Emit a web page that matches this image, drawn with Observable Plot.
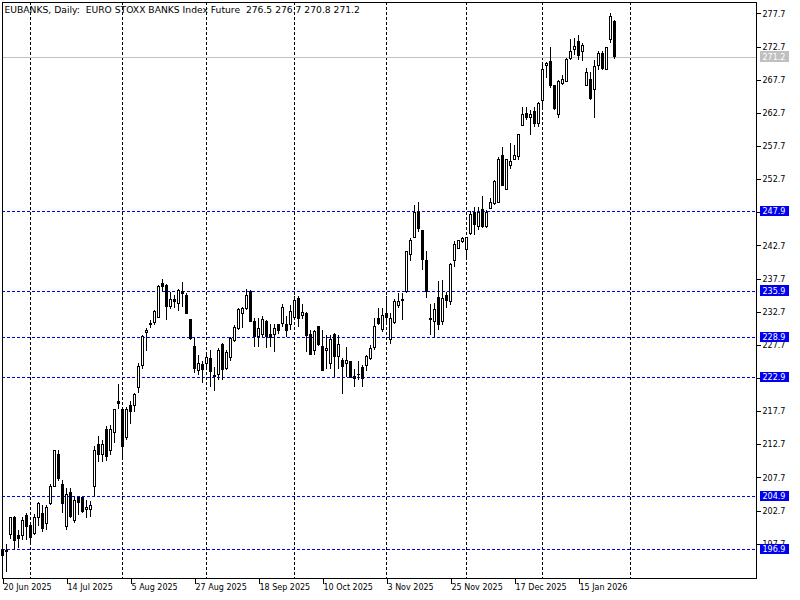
<!DOCTYPE html>
<html><head><meta charset="utf-8">
<script src="https://cdn.jsdelivr.net/npm/d3@7"></script>
<script src="https://cdn.jsdelivr.net/npm/@observablehq/plot@0.6"></script>
<style>
html,body{margin:0;padding:0;background:#fff;}
#chart text{white-space:pre;}
#chart svg line, #chart svg rect, #chart svg path{shape-rendering:crispEdges;}
</style>
</head><body><div id="chart"></div>
<script>
const open  = [196.8,196.6,199.1,201.6,199.0,199.0,201.9,200.4,199.2,201.6,202.3,200.8,203.8,206.4,211.2,206.7,200.3,205.5,201.2,204.7,
 204.7,202.8,202.8,206.3,212.6,211.2,214.9,211.8,214.5,219.1,217.9,213.8,218.5,218.6,221.2,224.6,229.5,230.9,231.1,231.9,
 237.0,236.7,233.5,234.5,234.0,235.7,235.2,231.5,227.5,223.9,224.8,224.9,225.7,223.1,223.3,227.7,224.1,225.8,228.3,230.2,
 232.5,233.2,235.7,231.3,229.0,229.2,231.3,229.2,229.3,230.7,230.9,230.7,230.7,231.9,234.7,232.1,232.5,229.2,226.8,230.5,
 227.5,226.8,224.9,229.2,226.0,225.4,224.9,225.2,223.0,223.3,224.3,224.6,225.7,227.3,231.7,230.0,232.4,228.5,231.1,233.7,
 234.6,235.7,241.4,243.9,247.8,244.9,240.4,231.7,231.3,234.8,231.3,235.2,234.2,240.5,242.3,243.3,242.1,244.5,247.6,245.5,
 248.2,245.6,248.3,249.1,249.2,256.3,251.2,254.7,255.7,256.1,260.8,262.6,262.0,262.9,261.1,264.5,269.8,270.4,266.8,262.4,
 267.2,267.4,270.9,272.3,273.4,271.9,266.9,267.7,266.2,269.9,271.7,269.3,273.8,276.5];
const high  = [197.0,197.6,201.6,201.9,199.7,201.7,202.3,201.0,202.2,204.0,203.5,203.5,206.7,211.8,211.8,207.3,206.1,206.1,204.8,204.8,
 204.8,204.3,204.2,212.5,213.9,213.3,215.5,215.6,218.1,221.8,218.1,218.3,219.2,220.5,224.9,229.2,230.3,231.5,233.0,236.7,
 237.6,236.9,235.7,235.2,236.2,237.2,235.5,231.6,228.7,226.2,225.2,226.7,226.9,224.4,227.3,228.0,226.9,228.9,230.7,233.2,
 233.4,236.1,236.0,231.7,231.7,232.0,231.5,230.8,230.8,230.8,233.9,232.0,233.7,235.0,235.0,233.9,232.7,229.9,229.9,230.6,
 229.9,229.2,229.2,229.5,229.2,225.7,227.4,225.3,224.1,225.2,224.6,226.2,227.7,231.8,233.2,233.2,235.0,232.5,234.6,235.5,
 235.5,241.9,243.8,248.8,249.2,245.0,241.8,233.9,234.0,237.4,237.5,235.7,240.0,243.3,243.5,244.0,244.0,247.9,248.5,248.5,
 250.2,248.1,249.8,252.6,256.1,257.6,255.8,258.1,257.9,259.5,263.6,263.6,263.1,263.6,264.4,270.4,270.4,272.7,266.9,267.7,
 268.4,271.0,273.8,274.0,274.4,273.2,269.4,268.9,270.7,272.0,272.0,272.7,277.7,276.7];
const low   = [195.8,193.4,198.4,196.7,197.0,198.2,198.2,197.6,199.0,200.4,199.4,199.8,203.5,206.3,207.2,202.4,199.7,201.6,200.9,202.0,
 202.3,201.6,201.7,204.7,210.0,210.0,210.2,211.1,212.9,218.0,210.3,213.3,215.7,217.6,220.5,224.1,226.8,230.3,230.7,231.9,
 235.7,231.4,233.1,233.2,232.8,233.4,232.4,228.4,223.4,223.2,221.9,223.9,221.3,220.7,222.4,222.4,223.9,225.2,228.2,229.9,
 230.2,233.0,231.1,227.4,227.4,228.9,227.2,227.4,226.7,229.3,230.4,228.9,229.9,231.5,230.4,231.6,226.7,226.2,226.2,227.6,
 223.8,224.1,224.1,222.8,224.1,220.3,222.9,222.7,221.4,222.4,221.3,223.7,225.4,226.9,230.7,229.6,230.9,227.9,230.9,233.3,
 231.5,235.6,240.3,243.8,244.8,239.0,234.8,229.2,228.7,229.9,230.7,233.2,233.7,239.5,242.2,243.0,241.0,244.3,244.3,245.0,
 245.3,245.3,248.2,248.8,249.1,251.6,251.1,254.3,255.6,255.6,260.7,261.6,259.4,260.6,260.6,263.6,267.9,266.4,263.1,261.9,
 266.9,267.3,270.7,271.4,270.7,270.5,266.8,264.6,261.9,269.2,269.2,269.2,273.2,270.8];
const close = [195.9,196.7,201.6,198.2,198.5,201.2,200.3,198.7,201.7,203.7,200.0,203.2,206.4,211.7,207.5,203.7,205.2,201.8,204.2,203.9,
 202.5,203.2,203.5,211.7,211.2,212.7,210.9,214.9,218.0,218.8,212.4,217.9,217.6,220.2,224.5,229.0,229.9,230.8,232.8,236.5,
 236.5,233.5,234.5,234.2,235.9,235.5,232.5,228.7,224.1,224.9,224.0,225.8,223.7,222.9,226.9,224.0,226.5,228.7,230.3,233.1,
 233.2,235.2,231.2,228.9,230.2,231.5,228.9,228.8,230.1,229.9,233.3,229.9,232.7,234.4,231.7,232.6,229.1,226.3,229.7,227.7,
 223.9,227.2,228.5,226.0,227.7,224.4,225.4,222.8,222.7,223.2,222.6,226.0,227.2,230.5,230.9,232.1,231.9,231.7,234.2,234.3,
 234.4,241.8,243.4,247.6,245.3,240.6,235.8,231.5,233.1,230.7,234.7,234.4,239.9,242.8,243.4,243.7,243.9,247.3,245.8,247.6,
 245.6,247.6,249.2,252.3,255.7,251.7,255.7,255.4,256.3,259.4,262.4,262.0,262.5,261.1,264.1,269.2,270.1,266.9,263.4,267.4,
 267.8,270.8,271.9,272.7,271.4,272.9,268.8,264.9,269.7,271.7,269.4,272.6,277.2,271.2];

const xTickIdx = [0,16,32,48,64,80,96,112,128,144];
const xTickLabels = ["20 Jun 2025","14 Jul 2025","5 Aug 2025","27 Aug 2025","18 Sep 2025","10 Oct 2025","3 Nov 2025","25 Nov 2025","17 Dec 2025","15 Jan 2026"];
const monthStartIdx = [7,30,51,73,96,116,135,157];
const yTicks = [277.7,272.7,267.7,262.7,257.7,252.7,247.7,242.7,237.7,232.7,227.7,222.7,217.7,212.7,207.7,202.7,197.7];
const levels = [247.9,235.9,228.9,222.9,204.9,196.9];
const lastPrice = 271.2;
const title = "EUBANKS, Daily:  EURO STOXX BANKS Index Future  276.5 276.7 270.8 271.2";

const bars = open.map((o,i)=>({i, o, h: high[i], l: low[i], c: close[i]}));
const upBars = bars.filter(d => d.c >= d.o);
const downBars = bars.filter(d => d.c < d.o);
const boxX1 = 189.5, boxX2 = 196.75, boxHalf = 0.78, labelX = 190;

const chart = Plot.plot({
  width: 800, height: 600,
  marginLeft: 2, marginRight: 44, marginTop: 2, marginBottom: 22,
  style: {fontFamily: "DejaVu Sans", fontSize: "8px", background: "#fff", color: "#000", overflow: "visible"},
  x: {type: "linear", domain: [0, 188.5], axis: null},
  y: {domain: [192.53, 279.43], axis: null},
  marks: [
    Plot.ruleX(monthStartIdx, {stroke: "#000", strokeDasharray: "3,2"}),
    Plot.ruleY(levels, {stroke: "#0000ee", strokeDasharray: "3,2"}),
    Plot.ruleY([lastPrice], {stroke: "#c0c0c0"}),
    Plot.ruleX(bars, {x: "i", y1: "l", y2: "h", stroke: "#000"}),
    Plot.rect(upBars, {x1: d => d.i - 0.25, x2: d => d.i + 0.25, y1: "o", y2: "c", fill: "#fff", stroke: "#000"}),
    Plot.rect(downBars, {x1: d => d.i - 0.25, x2: d => d.i + 0.25, y1: "c", y2: "o", fill: "#000", stroke: "#000"}),
    Plot.frame({stroke: "#000"}),
    Plot.axisY({ticks: yTicks, anchor: "right", tickSize: 4, tickPadding: 2, tickFormat: d => d.toFixed(1), label: null, fontSize: 8}),
    Plot.axisX({ticks: xTickIdx, anchor: "bottom", tickSize: 6, tickPadding: 0, textAnchor: "start", dx: 1,
      tickFormat: d => xTickLabels[xTickIdx.indexOf(d)], label: null, fontSize: 8}),
    Plot.rect(levels, {x1: boxX1, x2: boxX2, y1: d => d - boxHalf, y2: d => d + boxHalf, fill: "#0000ee"}),
    Plot.text(levels, {x: labelX, y: d => d, text: d => d.toFixed(1), fill: "#fff", textAnchor: "start", fontSize: 8}),
    Plot.rect([lastPrice], {x1: boxX1, x2: boxX2, y1: d => d - boxHalf, y2: d => d + boxHalf, fill: "#c0c0c0"}),
    Plot.text([lastPrice], {x: labelX, y: d => d, text: d => d.toFixed(1), fill: "#fff", textAnchor: "start", fontSize: 8}),
    Plot.text([title], {frameAnchor: "top-left", dx: 2, dy: 4, lineAnchor: "top", textAnchor: "start", fill: "#000", fontSize: 9.2})
  ]
});
document.getElementById("chart").appendChild(chart);
</script>
</body></html>
